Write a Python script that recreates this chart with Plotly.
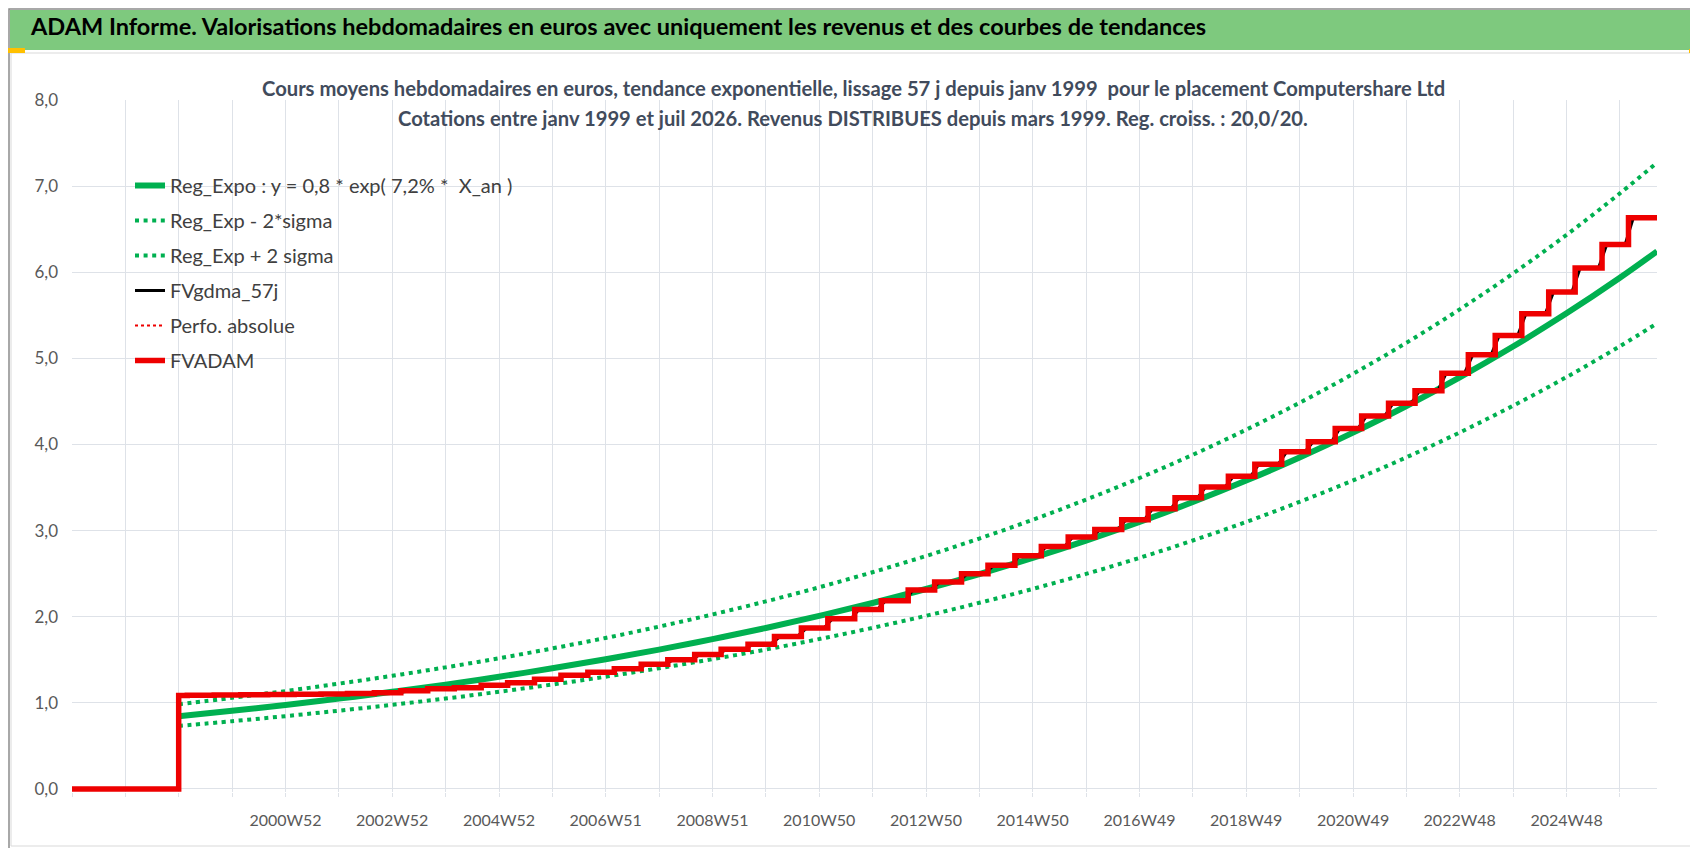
"""ADAM weekly valuation chart for Computershare Ltd, rebuilt with Plotly."""

import pandas as pd
import plotly.graph_objects as go

GREEN = "#00B050"
RED = "#EE0000"
GRID = "#DEE2E8"
TEXT = "#595959"
TITLE_BLUE = "#414B5C"
FONT = "Lato"

# trend curves, one point per January plus the last quote
trend_years = list(range(1999, 2027))
trend_end = "2026-09-12"
reg_expo = [0.845, 0.908, 0.976, 1.049, 1.128, 1.212, 1.303, 1.401, 1.506, 1.618,
            1.740, 1.870, 2.010, 2.160, 2.322, 2.496, 2.683, 2.884, 3.100, 3.332,
            3.581, 3.849, 4.138, 4.447, 4.780, 5.138, 5.523, 5.936, 6.243]
reg_plus = [0.984, 1.058, 1.137, 1.223, 1.314, 1.412, 1.518, 1.632, 1.754, 1.885,
            2.027, 2.178, 2.342, 2.517, 2.705, 2.908, 3.126, 3.360, 3.611, 3.881,
            4.172, 4.484, 4.820, 5.181, 5.569, 5.986, 6.434, 6.916, 7.273]
reg_minus = [0.732, 0.787, 0.846, 0.909, 0.977, 1.050, 1.129, 1.213, 1.304, 1.402,
             1.507, 1.619, 1.741, 1.871, 2.011, 2.162, 2.323, 2.497, 2.684, 2.885,
             3.101, 3.334, 3.583, 3.851, 4.140, 4.450, 4.783, 5.141, 5.406]

# FVADAM: first quote in Jan 1999, then a step at each distribution (March / September)
fv_start = 1.086
fv_march = [1.088, 1.093, 1.100, 1.110, 1.140, 1.175, 1.233, 1.322, 1.397, 1.502,
            1.622, 1.772, 1.976, 2.185, 2.402, 2.598, 2.815, 3.012, 3.254, 3.507,
            3.771, 4.031, 4.330, 4.625, 5.041, 5.518, 6.050, 6.633]
fv_sept = [1.090, 1.096, 1.104, 1.118, 1.165, 1.205, 1.275, 1.354, 1.447, 1.562,
           1.681, 1.870, 2.083, 2.311, 2.500, 2.709, 2.925, 3.125, 3.383, 3.631,
           3.915, 4.186, 4.478, 4.827, 5.266, 5.771, 6.322]

tick_dates = ["2001-01-01", "2003-01-01", "2005-01-01", "2007-01-01", "2009-01-01",
              "2011-01-01", "2013-01-01", "2015-01-01", "2017-01-01", "2019-01-01",
              "2021-01-01", "2023-01-01", "2025-01-01"]
tick_text = ["2000W52", "2002W52", "2004W52", "2006W51", "2008W51", "2010W50", "2012W50",
             "2014W50", "2016W49", "2018W49", "2020W49", "2022W48", "2024W48"]

# plot area in pixels (used for decoration placement)
W_FIG, H_FIG = 1698, 848
L, R, T, B = 64, 49, 92, 64
PW, PH = W_FIG - L - R, H_FIG - T - B


def fx(px):
    return (px - L) / PW


def fy(py):
    return (H_FIG - B - py) / PH


trend_x = [f"{y}-01-01" for y in trend_years] + [trend_end]

fv_x = ["1997-01-01", "1999-01-01"]
fv_y = [0, fv_start]
for i, year in enumerate(trend_years):
    fv_x.append(f"{year}-03-01")
    fv_y.append(fv_march[i])
    if i < len(fv_sept):
        fv_x.append(f"{year}-09-01")
        fv_y.append(fv_sept[i])
fv_x.append(trend_end)
fv_y.append(fv_y[-1])

# FVgdma_57j: 57 day (8 week) moving average of the valuation
steps = pd.Series(fv_y[1:], index=pd.to_datetime(fv_x[1:]))
weeks = pd.date_range("1999-01-01", trend_end, freq="7D")
weekly = steps.reindex(weeks, method="ffill")
gdma = weekly.rolling(8, center=True, min_periods=1).mean()

DOTS = "4px,4.6px"

fig = go.Figure()
fig.add_trace(go.Scatter(x=trend_x, y=reg_expo, mode="lines", line_shape="spline",
                         name="Reg_Expo : y = 0,8 * exp( 7,2% * \u00a0X_an )",
                         line=dict(color=GREEN, width=6), legendgroup="a"))
fig.add_trace(go.Scatter(x=trend_x, y=reg_minus, mode="lines", line_shape="spline",
                         name="Reg_Exp - 2*sigma",
                         line=dict(color=GREEN, width=4, dash=DOTS), legendgroup="b"))
fig.add_trace(go.Scatter(x=trend_x, y=reg_plus, mode="lines", line_shape="spline",
                         name="Reg_Exp + 2 sigma",
                         line=dict(color=GREEN, width=4, dash=DOTS), legendgroup="c"))
fig.add_trace(go.Scatter(x=gdma.index, y=gdma.values, mode="lines", name="FVgdma_57j",
                         line=dict(color="black", width=3), legendgroup="d"))
fig.add_trace(go.Scatter(x=[None], y=[None], mode="lines", name="Perfo. absolue",
                         line=dict(color=RED, width=2, dash="dot"), legendgroup="e"))
fig.add_trace(go.Scatter(x=fv_x, y=fv_y, mode="lines", line_shape="hv", name="FVADAM",
                         line=dict(color=RED, width=5.5), legendgroup="f"))

shapes = [
    # white box behind the chart title, hides the grid
    dict(type="rect", xref="paper", yref="paper", x0=fx(241), x1=fx(1449), y0=fy(130), y1=fy(92),
         fillcolor="white", line_width=0, layer="between"),
    # frame of the sheet
    dict(type="rect", xref="paper", yref="paper", x0=fx(1), x1=fx(1696), y0=fy(847), y1=fy(1),
         line=dict(color="#8C8C8C", width=1.5), layer="above"),
    dict(type="rect", xref="paper", yref="paper", x0=fx(3), x1=fx(1686), y0=fy(838), y1=fy(45),
         line=dict(color="#D9D9D9", width=1), layer="above"),
    # green banner
    dict(type="rect", xref="paper", yref="paper", x0=fx(2), x1=fx(1694), y0=fy(42), y1=fy(2),
         fillcolor="#7EC97E", line_width=0, layer="above"),
]
for x0, y0, x1, y1 in [(0, 40, 17, 45), (0, 840, 17, 845), (1681, 41, 1695, 45), (1691, 41, 1695, 56),
                       (1681, 841, 1695, 846), (1691, 820, 1695, 846)]:
    shapes.append(dict(type="rect", xref="paper", yref="paper", x0=fx(x0), x1=fx(x1), y0=fy(y1), y1=fy(y0),
                       fillcolor="#FFC000", line_width=0, layer="above"))

annotations = [
    dict(text="<b>ADAM Informe. Valorisations hebdomadaires en euros avec uniquement les revenus et des courbes de tendances</b>",
         xref="paper", yref="paper", x=fx(20), y=fy(18), xanchor="left", yanchor="middle",
         showarrow=False, font=dict(family=FONT, size=23.5, color="black")),
    dict(text="<b>Cours moyens hebdomadaires en euros, tendance exponentielle, lissage 57 j depuis janv 1999 \u00a0pour le placement Computershare Ltd</b>",
         xref="paper", yref="paper", x=fx(845), y=fy(80), xanchor="center", yanchor="middle",
         showarrow=False, font=dict(family=FONT, size=20.2, color=TITLE_BLUE)),
    dict(text="<b>Cotations entre janv 1999 et juil 2026. Revenus DISTRIBUES depuis mars 1999. Reg. croiss. : 20,0/20.</b>",
         xref="paper", yref="paper", x=fx(845), y=fy(110), xanchor="center", yanchor="middle",
         showarrow=False, font=dict(family=FONT, size=20.2, color=TITLE_BLUE)),
]

fig.update_layout(
    width=W_FIG,
    height=H_FIG,
    margin=dict(l=L, r=R, t=T, b=B),
    paper_bgcolor="white",
    plot_bgcolor="white",
    separators=", ",
    font=dict(family=FONT, color=TEXT),
    shapes=shapes,
    annotations=annotations,
    legend=dict(x=fx(122), y=fy(158), xanchor="left", yanchor="top", bgcolor="rgba(0,0,0,0)",
                font=dict(family=FONT, size=20, color="#404040"), tracegroupgap=6,
                traceorder="grouped"),
    xaxis=dict(type="date", range=["1997-01-01", "2026-09-12"], tickvals=tick_dates, ticktext=tick_text,
               showgrid=True, gridcolor=GRID, ticks="outside", ticklen=4, tickcolor=GRID,
               ticklabelstandoff=10, tickfont=dict(size=16, color=TEXT), showline=False, zeroline=False,
               minor=dict(dtick="M12", tick0="1997-01-01", showgrid=True, gridcolor=GRID,
                          ticks="outside", ticklen=4, tickcolor=GRID)),
    yaxis=dict(range=[-0.035, 8], dtick=1, tick0=0, tickformat=".1f", showgrid=True, gridcolor=GRID,
               zeroline=True, zerolinecolor=GRID, zerolinewidth=1, showline=False, ticks="",
               ticklabelstandoff=13, tickfont=dict(size=17, color=TEXT)),
)

fig.write_html("out.html")
